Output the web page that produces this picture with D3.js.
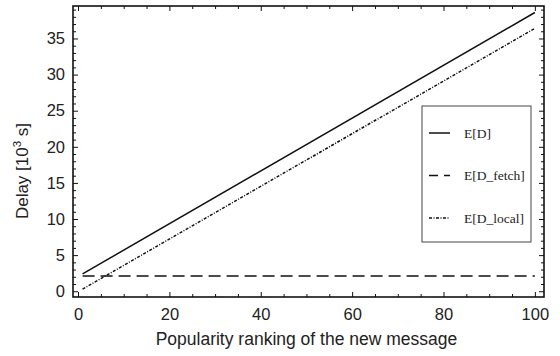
<!DOCTYPE html>
<html>
<head>
<meta charset="utf-8">
<script src="https://cdn.jsdelivr.net/npm/d3@7"></script>
<style>
  html, body { margin: 0; padding: 0; background: #fff; }
  svg { display: block; }
</style>
</head>
<body>
<svg id="chart" width="560" height="356"></svg>
<script>
// Popularity ranking (x) and expected delays in 10^3 s
const ranking = [1, 100];
const delayTotal = [2.4, 38.6];
const delayFetch = [2.1, 2.1];
const delayLocal = [0.3, 36.4];

const seriesNames = ["E[D]", "E[D_fetch]", "E[D_local]"];
const xTicks = [0, 20, 40, 60, 80, 100];
const yTicks = [0, 5, 10, 15, 20, 25, 30, 35];

const svg = d3.select("#chart");
const margin = { left: 73, right: 16, top: 6, bottom: 59 };
const W = 560, H = 356;
const iw = W - margin.left - margin.right;
const ih = H - margin.top - margin.bottom;

const x = d3.scaleLinear().domain([-1.1, 102]).range([0, iw]);
const y = d3.scaleLinear().domain([-0.8, 39.5]).range([ih, 0]);

const g = svg.append("g").attr("transform", `translate(${margin.left},${margin.top})`);

const tickFont = "'Liberation Sans', Arial, sans-serif";

// ticks on all four sides, pointing inward
function drawTicks(axis, transform) {
  const a = g.append("g").attr("transform", transform).call(axis);
  a.select(".domain").remove();
  a.selectAll("line").attr("stroke", "#111").attr("stroke-width", 1);
  return a;
}

const xMinor = d3.range(0, 101, 5).filter(v => v % 20 !== 0);
const yMinor = d3.range(0, 40, 1).filter(v => v % 5 !== 0);

// bottom
const bx = drawTicks(d3.axisBottom(x).tickValues(xTicks).tickSizeInner(-5).tickSizeOuter(0).tickPadding(11), `translate(0,${ih})`);
bx.selectAll("text").attr("font-family", tickFont).attr("font-size", 16.5).attr("fill", "#222");
drawTicks(d3.axisBottom(x).tickValues(xMinor).tickSize(-3).tickFormat(""), `translate(0,${ih})`);
// top
drawTicks(d3.axisTop(x).tickValues(xTicks).tickSize(-5).tickFormat(""), "translate(0,0)");
drawTicks(d3.axisTop(x).tickValues(xMinor).tickSize(-3).tickFormat(""), "translate(0,0)");
// left
const ly = drawTicks(d3.axisLeft(y).tickValues(yTicks).tickSizeInner(-5).tickSizeOuter(0).tickPadding(8), "translate(0,0)");
ly.selectAll("text").attr("font-family", tickFont).attr("font-size", 16.5).attr("fill", "#222");
drawTicks(d3.axisLeft(y).tickValues(yMinor).tickSize(-3).tickFormat(""), "translate(0,0)");
// right
drawTicks(d3.axisRight(y).tickValues(yTicks).tickSize(-5).tickFormat(""), `translate(${iw},0)`);
drawTicks(d3.axisRight(y).tickValues(yMinor).tickSize(-3).tickFormat(""), `translate(${iw},0)`);

// frame
g.append("rect").attr("width", iw).attr("height", ih)
  .attr("fill", "none").attr("stroke", "#111").attr("stroke-width", 1.6);

// series
const line = d3.line().x(d => x(d[0])).y(d => y(d[1]));
const styles = [
  { data: delayTotal, dash: null, legendDash: null },
  { data: delayFetch, dash: "12,6", legendDash: "9,6" },
  { data: delayLocal, dash: "3,1.5,1,1.5", legendDash: "3,1.5,1,1.5" }
];
styles.forEach(s => {
  g.append("path")
    .datum(ranking.map((r, i) => [r, s.data[i]]))
    .attr("d", line)
    .attr("fill", "none")
    .attr("stroke", "#111")
    .attr("stroke-width", 1.5)
    .attr("stroke-dasharray", s.dash);
});

// legend
const lg = svg.append("g").attr("transform", "translate(422,106)");
lg.append("rect").attr("width", 109).attr("height", 136)
  .attr("fill", "#fff").attr("stroke", "#444").attr("stroke-width", 1);
seriesNames.forEach((name, i) => {
  const yy = 27 + i * 42.5;
  lg.append("line").attr("x1", 7).attr("x2", 28).attr("y1", yy).attr("y2", yy)
    .attr("stroke", "#111").attr("stroke-width", 1.5)
    .attr("stroke-dasharray", styles[i].legendDash);
  lg.append("text").attr("x", 42).attr("y", yy + 4.5)
    .attr("font-family", "'Liberation Serif', 'Times New Roman', serif")
    .attr("font-size", 13.5).attr("fill", "#222").text(name);
});

// axis titles
svg.append("text")
  .attr("x", margin.left + x(50)).attr("y", 345)
  .attr("text-anchor", "middle")
  .attr("font-family", tickFont).attr("font-size", 17.5).attr("fill", "#222")
  .text("Popularity ranking of the new message");

const yt = svg.append("text")
  .attr("transform", "translate(28,171) rotate(-90)")
  .attr("text-anchor", "middle")
  .attr("font-family", tickFont).attr("font-size", 17).attr("fill", "#222");
yt.append("tspan").text("Delay [10");
yt.append("tspan").attr("dy", -7).attr("font-size", 11.5).text("3");
yt.append("tspan").attr("dy", 7).text(" s]");
</script>
</body>
</html>
